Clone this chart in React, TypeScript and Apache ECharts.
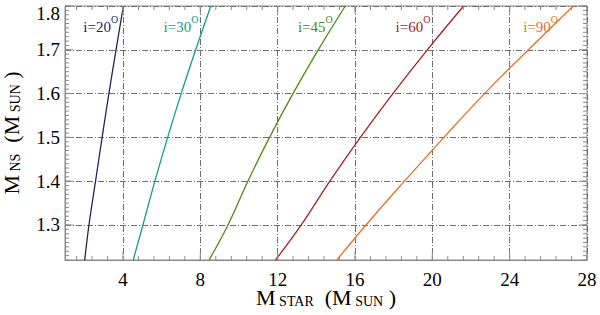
import React, { useEffect, useRef } from 'react';
import * as echarts from 'echarts';

const xMajorTicks = [4, 8, 12, 16, 20, 24, 28];
const yMajorTicks = [1.3, 1.4, 1.5, 1.6, 1.7, 1.8];

const massNS = [1.22, 1.3, 1.4, 1.5, 1.6, 1.7, 1.8];
const star20 = [2.02, 2.24, 2.58, 2.92, 3.27, 3.64, 4.02];
const star30 = [4.53, 5.03, 5.65, 6.31, 7.01, 7.76, 8.54];
const star45 = [8.45, 9.43, 10.46, 11.58, 12.79, 14.1, 15.5];
const star60 = [11.89, 13.22, 14.7, 16.28, 17.96, 19.74, 21.62];
const star90 = [15.06, 16.57, 18.56, 20.6, 22.7, 24.97, 27.29];

const seriesNames = ['i=20', 'i=30', 'i=45', 'i=60', 'i=90'];
const seriesStars = [star20, star30, star45, star60, star90];
const seriesColors = ['#1b2560', '#12a07e', '#4d8a14', '#a82222', '#e8701e'];
const labelAnchorX = [3.75, 7.9, 14.85, 19.9, 26.5];
const labelAnchorY = 1.757;

const X_MIN = 1;
const X_MAX = 28;
const Y_MIN = 1.22;
const Y_MAX = 1.8;

const xMinorTicks: number[] = [];
for (let k = 2; k <= 35; k++) xMinorTicks.push(Math.round(k * 80) / 100);
const yMinorTicks: number[] = [];
for (let k = 122; k <= 180; k++) yMinorTicks.push(k / 100);

const FONT = 'Liberation Serif';
const AXIS_COLOR = '#8a8a8a';
const MAJOR_LEN = 8;
const MINOR_LEN = 4;

export default function App() {
  const ref = useRef<HTMLDivElement>(null);
  useEffect(() => {
    if (!ref.current) return;
    const chart = echarts.init(ref.current, null, { renderer: 'svg' });

    const split = {
      show: true,
      lineStyle: { color: '#6e6e6e', width: 1, type: [6, 2, 1, 2] },
    };

    const xTickData = [
      ...xMinorTicks.map((v) => [v, MINOR_LEN]),
      ...xMajorTicks.map((v) => [v, MAJOR_LEN]),
    ];
    const yTickData = [
      ...yMinorTicks.map((v) => [MINOR_LEN, v]),
      ...yMajorTicks.map((v) => [MAJOR_LEN, v]),
    ];
    const tickStyle = { stroke: AXIS_COLOR, lineWidth: 1 };

    const series: any[] = seriesNames.map((name, i) => ({
      type: 'line',
      name,
      data: massNS.map((m, j) => [seriesStars[i][j], m]),
      smooth: 0.4,
      showSymbol: false,
      symbol: 'none',
      z: 3,
      lineStyle: { color: seriesColors[i], width: 1.3 },
      itemStyle: { color: seriesColors[i] },
      markPoint: {
        symbol: 'circle',
        symbolSize: 0,
        silent: true,
        data: [{ coord: [labelAnchorX[i], labelAnchorY] }],
        label: {
          show: true,
          position: 'left',
          distance: 0,
          formatter: '{a|' + name + '}{o|O}',
          rich: {
            a: { fontFamily: FONT, fontSize: 15, color: seriesColors[i], verticalAlign: 'bottom', lineHeight: 20 },
            o: { fontFamily: FONT, fontSize: 10, color: seriesColors[i], verticalAlign: 'top', lineHeight: 20 },
          },
        },
      },
    }));

    series.push({
      type: 'custom',
      name: 'xticks',
      silent: true,
      z: 4,
      data: xTickData,
      renderItem: (_p: any, api: any) => {
        const v = api.value(0);
        const len = api.value(1);
        const b = api.coord([v, Y_MIN]);
        const t = api.coord([v, Y_MAX]);
        return {
          type: 'group',
          children: [
            { type: 'line', shape: { x1: b[0], y1: b[1], x2: b[0], y2: b[1] - len }, style: tickStyle },
            { type: 'line', shape: { x1: t[0], y1: t[1], x2: t[0], y2: t[1] + len }, style: tickStyle },
          ],
        };
      },
    });
    series.push({
      type: 'custom',
      name: 'yticks',
      silent: true,
      z: 4,
      data: yTickData,
      renderItem: (_p: any, api: any) => {
        const len = api.value(0);
        const v = api.value(1);
        const l = api.coord([X_MIN, v]);
        const r = api.coord([X_MAX, v]);
        return {
          type: 'group',
          children: [
            { type: 'line', shape: { x1: l[0], y1: l[1], x2: l[0] + len, y2: l[1] }, style: tickStyle },
            { type: 'line', shape: { x1: r[0], y1: r[1], x2: r[0] - len, y2: r[1] }, style: tickStyle },
          ],
        };
      },
    });

    chart.setOption({
      animation: false,
      backgroundColor: '#fff',
      grid: {
        left: 65, right: 13, top: 6, bottom: 55,
        containLabel: false, outerBoundsMode: 'none',
        show: true, borderColor: AXIS_COLOR, borderWidth: 1, backgroundColor: 'transparent',
      },
      xAxis: {
        type: 'value', min: X_MIN, max: X_MAX,
        axisLine: { show: true, onZero: false, lineStyle: { color: AXIS_COLOR, width: 1 } },
        axisTick: { show: false, customValues: xMajorTicks },
        axisLabel: {
          customValues: xMajorTicks, fontFamily: FONT, fontSize: 19, lineHeight: 15, color: '#000', margin: 12,
        },
        splitLine: split,
        name: '{m|M}{s| STAR}{m|  (M}{s| SUN}{m| )}',
        nameLocation: 'middle', nameGap: 30, nameMoveOverlap: false,
        nameTextStyle: {
          rich: {
            m: { fontFamily: FONT, fontSize: 22, lineHeight: 18, color: '#000', verticalAlign: 'bottom' },
            s: { fontFamily: FONT, fontSize: 14, lineHeight: 18, color: '#000', verticalAlign: 'bottom' },
          },
        },
      },
      yAxis: {
        type: 'value', min: Y_MIN, max: Y_MAX,
        axisLine: { show: true, onZero: false, lineStyle: { color: AXIS_COLOR, width: 1 } },
        axisTick: { show: false, customValues: yMajorTicks },
        axisLabel: {
          customValues: yMajorTicks, fontFamily: FONT, fontSize: 19, color: '#000', margin: 5,
          formatter: (v: number) => (v >= 1.799 ? '{t|' + v.toFixed(1) + '}' : v.toFixed(1)),
          rich: { t: { fontFamily: FONT, fontSize: 19, color: '#000', padding: [14, 0, 0, 0] } },
        },
        splitLine: split,
        name: '{m|M}{s| NS}{m|  (M}{s| SUN}{m| )}',
        nameLocation: 'middle', nameGap: 43, nameMoveOverlap: false,
        nameTextStyle: {
          rich: {
            m: { fontFamily: FONT, fontSize: 22, color: '#000', verticalAlign: 'bottom' },
            s: { fontFamily: FONT, fontSize: 14, color: '#000', verticalAlign: 'bottom' },
          },
        },
      },
      series,
    } as any);

    return () => chart.dispose();
  }, []);

  return <div ref={ref} style={{ width: 600, height: 315, position: 'fixed', left: 0, top: 0 }} />;
}
